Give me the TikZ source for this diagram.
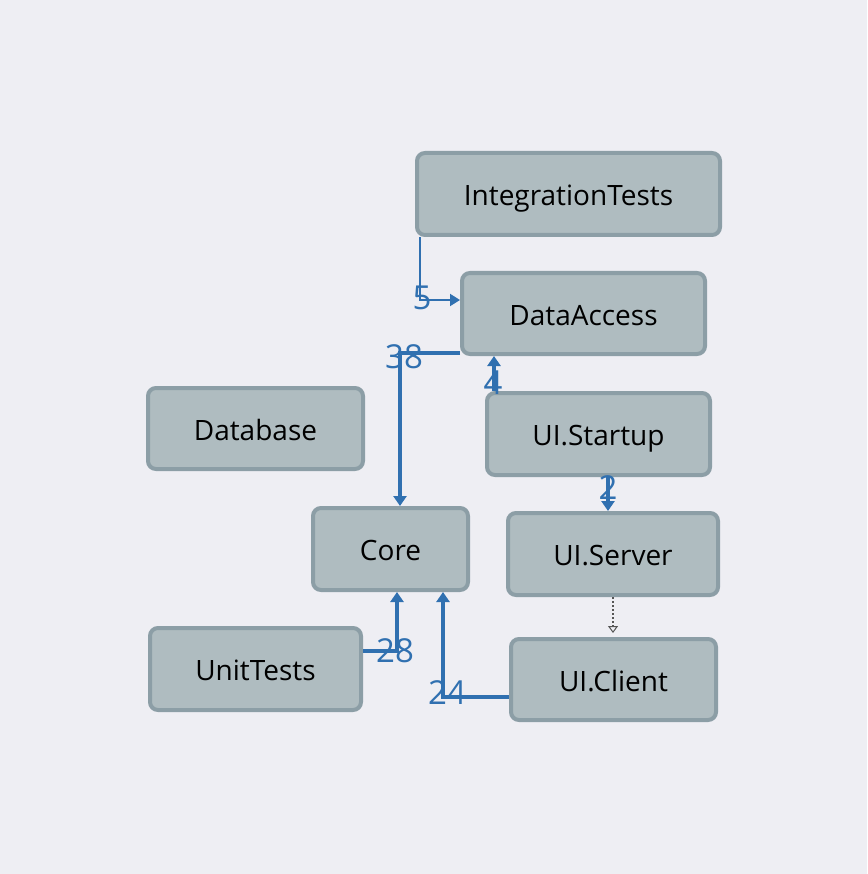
\documentclass[tikz,border=0pt]{standalone}
\usepackage{fontspec}
\setmainfont{Open Sans}
\usetikzlibrary{arrows.meta}
\definecolor{bg}{RGB}{238,238,243}
\definecolor{boxfill}{RGB}{175,188,192}
\definecolor{boxline}{RGB}{140,158,166}
\definecolor{dep}{RGB}{48,112,176}
\definecolor{dotc}{RGB}{85,85,85}
\tikzset{
  box/.style={draw=boxline, fill=boxfill, line width=4pt, rounded corners=8pt, inner sep=0pt,
    font=\fontsize{28}{32}\selectfont, text=black, text height=30pt, text depth=7pt},
  depthin/.style={draw=dep, line width=2pt, -{Triangle[width=12pt,length=10pt]}},
  depthick/.style={draw=dep, line width=4pt, -{Triangle[width=13pt,length=10pt]}},
  deplab/.style={text=dep, font=\fontsize{33}{38}\selectfont, inner sep=0pt},
  dotdep/.style={draw=dotc, line width=2pt, dotted, -{Triangle[open,width=10pt,length=7pt,line width=1pt]}}
}
\begin{document}
\begin{tikzpicture}[x=1pt,y=-1pt]
\fill[bg] (0,0) rectangle (867,874);
\useasboundingbox (0,0) rectangle (867,874);
\node[box, minimum width=303pt, minimum height=82pt] (IT) at (568.5,194) {IntegrationTests};
\node[box, minimum width=243pt, minimum height=81pt] (DA) at (583.5,313.5) {DataAccess};
\node[box, minimum width=215pt, minimum height=81pt] (DB) at (255.5,428.5) {Database};
\node[box, minimum width=223pt, minimum height=82pt] (ST) at (598.5,434) {UI.Startup};
\node[box, minimum width=155pt, minimum height=82pt] (CO) at (390.5,549) {Core};
\node[box, minimum width=210pt, minimum height=82pt] (SV) at (613,554) {UI.Server};
\node[box, minimum width=211pt, minimum height=82pt] (UT) at (255.5,669) {UnitTests};
\node[box, minimum width=205pt, minimum height=81pt] (CL) at (613.5,679.5) {UI.Client};

\draw[depthin] ([xshift=5pt]IT.south west) |- ([yshift=13.5pt]DA.west);
\draw[depthick] ([yshift=3pt]DA.south west) -| ([xshift=9.5pt]CO.north);
\draw[depthick] ([xshift=9pt]ST.north west) -- ([xshift=34pt]DA.south west);
\draw[depthick] ([xshift=9.5pt]ST.south) -- ([xshift=9.5pt]ST.south |- SV.north);
\draw[dotdep, shorten >=4pt] (SV.south) -- (SV.south |- CL.north);
\draw[depthick] ([yshift=18pt]UT.east) -| ([xshift=6.5pt]CO.south);
\draw[depthick] ([yshift=-17.5pt]CL.west) -| ([xshift=52.5pt]CO.south);

\node[deplab] (l5) at (422,298) {5};
\node[deplab] (l38) at (404,357) {38};
\node[deplab] (l4) at (493,383) {4};
\node[deplab] (l2) at (608,488) {2};
\node[deplab] (l28) at (395,651) {28};
\node[deplab] (l24) at (447,693) {24};
\end{tikzpicture}
\end{document}
